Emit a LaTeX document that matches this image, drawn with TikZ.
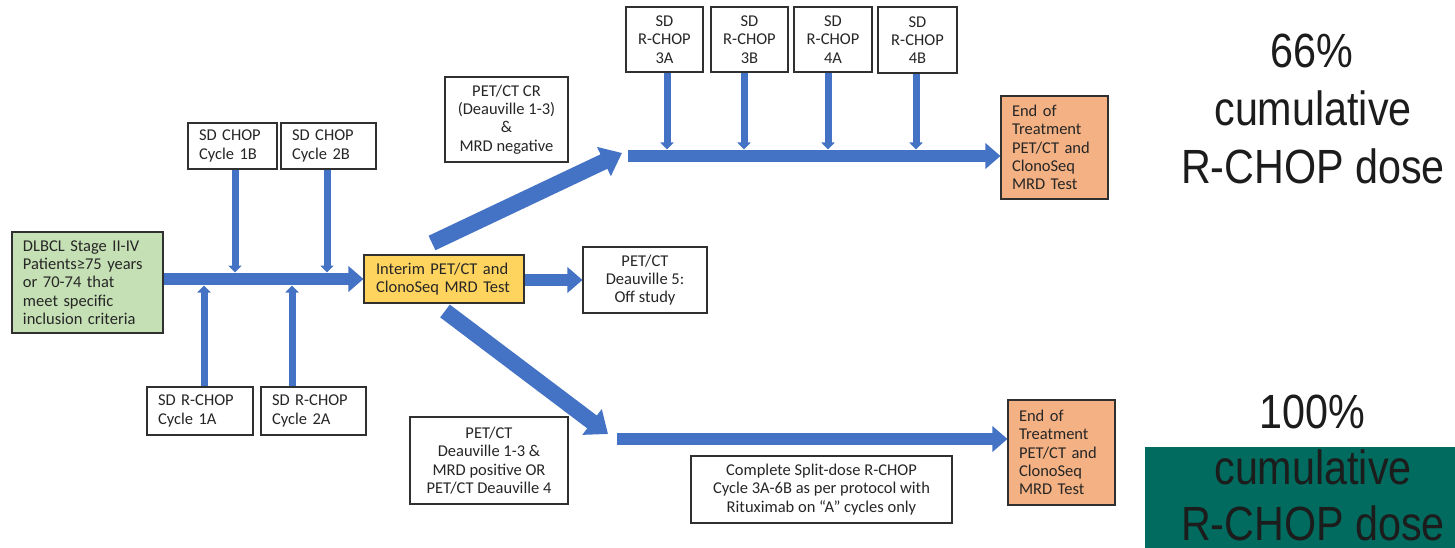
\documentclass[tikz,border=0pt]{standalone}
\usepackage{fontspec}
\setmainfont{Carlito}
\newfontfamily\bigfont[FakeStretch=0.86]{Liberation Sans}
\usetikzlibrary{arrows.meta,calc}
\definecolor{arrblue}{HTML}{4472C4}
\definecolor{boxline}{HTML}{303030}
\definecolor{txt}{HTML}{262626}
\definecolor{greenfill}{HTML}{C5E0B4}
\definecolor{yellowfill}{HTML}{FFD45E}
\definecolor{orangefill}{HTML}{F4B183}
\definecolor{tealbg}{HTML}{006B5E}
\definecolor{bigtxt}{HTML}{1C1C1C}
\begin{document}
\begin{tikzpicture}[x=1pt,y=-1pt,
  box/.style={draw=boxline,line width=1.1pt,fill=white,text=txt,
    font=\fontsize{16.5}{18.3}\selectfont,inner sep=0pt},
  lbox/.style={box,align=left},
  cbox/.style={box,align=center},
  fat/.style={draw=arrblue,line width=12.5pt,-{Triangle[width=25pt,length=15pt]}},
  diag/.style={draw=arrblue,line width=16pt,-{Triangle[width=31pt,length=20pt]}},
  thinarr/.style={draw=arrblue,line width=7pt,-{Triangle[width=13pt,length=7pt]}},
  bigline/.style={font=\bigfont\fontsize{48}{57.5}\selectfont,text=bigtxt,anchor=base,inner sep=0pt}
]
\useasboundingbox (0,0) rectangle (1455,548);
\fill[white] (0,0) rectangle (1455,548);

% ---- left part ----
\node[lbox,fill=greenfill,minimum width=151pt,minimum height=101pt,text width=129pt] (green) at (87.5,282.5)
  {DLBCL Stage II-IV\\Patients≥75 years\\or 70-74 that\\meet specific\\inclusion criteria};
\node[lbox,minimum width=89pt,minimum height=46pt,text width=67pt] (b1B) at (232.5,146) {SD CHOP\\Cycle 1B};
\node[lbox,minimum width=95pt,minimum height=46pt,text width=73pt] (b2B) at (328.5,146) {SD CHOP\\Cycle 2B};
\node[lbox,minimum width=106pt,minimum height=48pt,text width=84pt] (b1A) at (200,411) {SD R-CHOP\\Cycle 1A};
\node[lbox,minimum width=105pt,minimum height=48pt,text width=83pt] (b2A) at (313.5,411) {SD R-CHOP\\Cycle 2A};
\node[lbox,fill=yellowfill,minimum width=160pt,minimum height=48pt,text width=136pt] (interim) at (444,279)
  {Interim PET/CT and\\ClonoSeq MRD Test};

\coordinate (a1B) at (235,272.5);
\coordinate (a2B) at (327,272.5);
\coordinate (a1A) at (204,285.5);
\coordinate (a2A) at (292,285.5);

\draw[fat] (green.east |- interim.west) -- (interim.west);
\draw[thinarr] (b1B.south -| a1B) -- (a1B);
\draw[thinarr] (b2B.south -| a2B) -- (a2B);
\draw[thinarr] (b1A.north -| a1A) -- (a1A);
\draw[thinarr] (b2A.north -| a2A) -- (a2A);

% ---- middle ----
\node[cbox,minimum width=124pt,minimum height=66pt] (d5) at (645,280) {PET/CT\\Deauville 5:\\Off study};
\draw[fat] (interim.east |- d5.west) -- (d5.west);

\node[cbox,minimum width=123pt,minimum height=85pt] (cr) at (506.5,119.5)
  {PET/CT CR\\(Deauville 1-3)\\\&\\MRD negative};
\node[cbox,minimum width=158pt,minimum height=87pt] (d14) at (489,460.5)
  {PET/CT\\Deauville 1-3 \&\\MRD positive OR\\PET/CT Deauville 4};

\coordinate (u0) at (432,243);
\coordinate (u1) at (622,153);
\coordinate (v0) at (445,311);
\coordinate (v1) at (608,434);
\draw[diag] (u0) -- (u1);
\draw[diag] (v0) -- (v1);

% ---- top branch ----
\node[cbox,minimum width=77pt,minimum height=65pt] (b3A) at (664.5,39.5) {SD\\R-CHOP\\3A};
\node[cbox,minimum width=77pt,minimum height=65pt] (b3B) at (749.5,39.5) {SD\\R-CHOP\\3B};
\node[cbox,minimum width=78pt,minimum height=65pt] (b4A) at (833,39.5) {SD\\R-CHOP\\4A};
\node[cbox,minimum width=79pt,minimum height=66pt] (b4B) at (917.5,40) {SD\\R-CHOP\\4B};
\node[lbox,fill=orangefill,minimum width=107pt,minimum height=103pt,text width=85pt] (endTop) at (1054.5,147.5)
  {End of\\Treatment\\PET/CT and\\ClonoSeq\\MRD Test};

\coordinate (t0) at (628,156);
\draw[fat] (t0) -- (t0 -| endTop.west);
\coordinate (a3A) at (667,149.5);
\coordinate (a3B) at (744,149.5);
\coordinate (a4A) at (828,149.5);
\coordinate (a4B) at (916,149.5);
\draw[thinarr] (b3A.south -| a3A) -- (a3A);
\draw[thinarr] (b3B.south -| a3B) -- (a3B);
\draw[thinarr] (b4A.south -| a4A) -- (a4A);
\draw[thinarr] (b4B.south -| a4B) -- (a4B);

% ---- bottom branch ----
\node[lbox,fill=orangefill,minimum width=107pt,minimum height=105pt,text width=85pt] (endBot) at (1061.5,452.5)
  {End of\\Treatment\\PET/CT and\\ClonoSeq\\MRD Test};
\node[cbox,minimum width=261pt,minimum height=67pt] (complete) at (821.5,489.5)
  {Complete Split-dose R-CHOP\\Cycle 3A-6B as per protocol with\\Rituximab on “A” cycles only};
\coordinate (s0) at (617,439);
\draw[fat] (s0) -- (s0 -| endBot.west);

% ---- right texts ----
\node[fill=tealbg,minimum width=310pt,minimum height=101pt,inner sep=0pt] (tealbox) at (1300,497.5) {};
\node[bigline] (p66) at (1312,68) {66\%};
\node[bigline] (c66) at (1313,126) {cumulative};
\node[bigline] (r66) at (1313,183) {R-CHOP dose};
\node[bigline] (p100) at (1312,428) {100\%};
\node[bigline] (c100) at (1313,484) {cumulative};
\node[bigline] (r100) at (1313,540) {R-CHOP dose};
\end{tikzpicture}
\end{document}
